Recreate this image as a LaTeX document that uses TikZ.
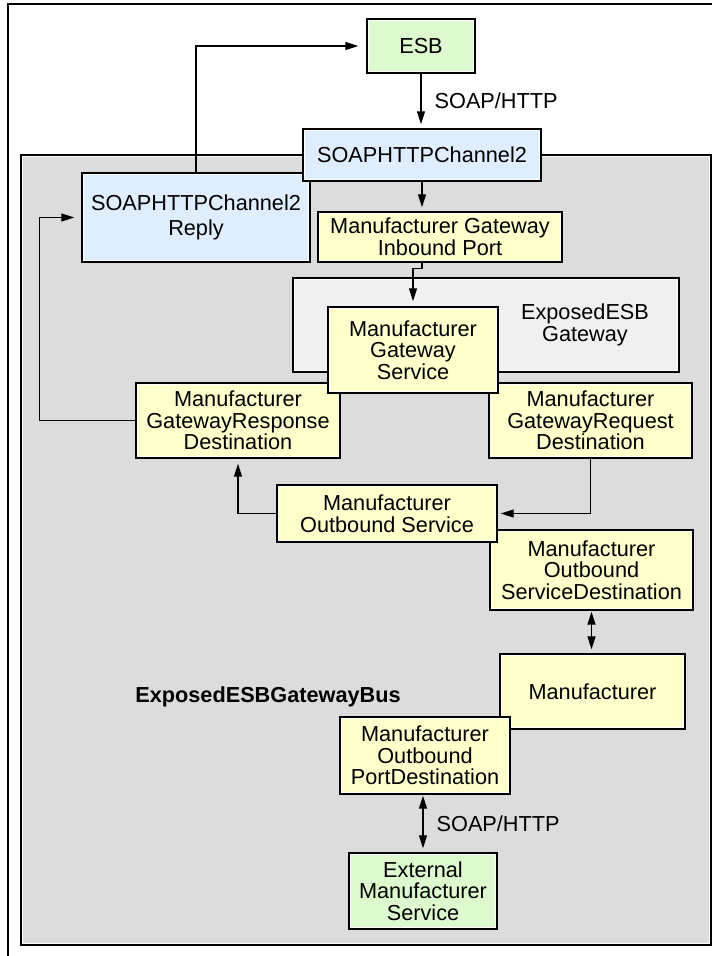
\documentclass[tikz,border=0pt]{standalone}
\usepackage{fontspec}
\setmainfont{Liberation Sans}
\usetikzlibrary{arrows.meta, positioning}
\definecolor{esbgreen}{RGB}{221,250,206}
\definecolor{chanblue}{RGB}{222,238,255}
\definecolor{mfryellow}{RGB}{255,255,204}
\definecolor{busgray}{RGB}{220,220,220}
\definecolor{gwgray}{RGB}{240,240,240}
\newcommand{\boxfont}{\fontsize{21.7}{21.7}\selectfont}
\tikzset{
  box/.style = {rectangle, draw=black, line width=1.4pt, align=center, inner sep=0pt, font=\boxfont,
    path picture={\draw[white, line width=1.2pt] ([shift={(1.5pt,-1.5pt)}]path picture bounding box.north west) rectangle ([shift={(-1.5pt,1.5pt)}]path picture bounding box.south east);}},
  greenbox/.style = {box, fill=esbgreen},
  bluebox/.style = {box, fill=chanblue},
  yellowbox/.style = {box, fill=mfryellow},
  gwbox/.style = {box, fill=gwgray},
  busbox/.style = {box, fill=busgray},
  plain/.style = {align=center, inner sep=0pt, font=\boxfont},
  buslabel/.style = {plain, font=\boxfont\bfseries},
  lbl/.style = {inner sep=0pt, font=\boxfont},
  line/.style = {-{Triangle[length=13pt,width=8pt]}, line width=1.3pt, shorten >=4pt},
  dline/.style = {{Triangle[length=13pt,width=8pt]}-{Triangle[length=13pt,width=8pt]}, line width=1.3pt, shorten <=1pt, shorten >=4pt}
}

\begin{document}
\begin{tikzpicture}[x=1pt, y=-1pt]
\useasboundingbox (0,0) rectangle (712,956);

% Frame and bus
\draw[line width=1.4pt] (8,980) -- (8,4) -- (730,4);
\node[busbox, minimum width=690pt, minimum height=790pt] (bus) at (366,550) {};
\node[buslabel] (buslbl) at (268,697) {ExposedESBGatewayBus};

% ESB and channels
\node[greenbox, minimum width=108pt, minimum height=54pt] (esb) at (421,46) {ESB};
\node[bluebox, minimum width=228pt, minimum height=89pt] (reply) at (196,217.5) {SOAPHTTPChannel2\\[3pt]Reply};
\node[bluebox, minimum width=238pt, minimum height=52pt] (chan) at (422,155) {SOAPHTTPChannel2};
\node[yellowbox, minimum width=244pt, minimum height=50pt] (inport) at (440,237) {Manufacturer Gateway\\Inbound Port};

% Gateway
\node[gwbox, minimum width=386pt, minimum height=94pt] (gw) at (486,325) {};
\node[plain] (gwlbl) at (585,325) {ExposedESB\\Gateway};
\node[yellowbox, minimum width=204pt, minimum height=75pt] (resp) at (238,420.5) {Manufacturer\\GatewayResponse\\Destination};
\node[yellowbox, minimum width=203pt, minimum height=75pt] (req) at (590.5,420.5) {Manufacturer\\GatewayRequest\\Destination};
\node[yellowbox, minimum width=170pt, minimum height=86pt] (gwsvc) at (413,350) {Manufacturer\\Gateway\\Service};

% Outbound side
\node[yellowbox, minimum width=203pt, minimum height=80pt] (outdest) at (591.5,570) {Manufacturer\\Outbound\\ServiceDestination};
\node[yellowbox, minimum width=220pt, minimum height=57pt] (outsvc) at (387,513.5) {Manufacturer\\Outbound Service};
\node[yellowbox, minimum width=185pt, minimum height=75pt] (mfr) at (592.5,691.5) {Manufacturer};
\node[yellowbox, minimum width=170pt, minimum height=77pt] (outport) at (425,755.5) {Manufacturer\\Outbound\\PortDestination};
\node[greenbox, minimum width=148pt, minimum height=76pt] (ext) at (423,891) {External\\Manufacturer\\Service};

% Connections
\draw[line] (esb.south) -- node[lbl, right=13pt] {SOAP/HTTP} (esb.south |- chan.north);
\draw[line] (chan.south) -- (chan.south |- inport.north);
\draw[line, shorten >=0pt] (inport.south -| chan.south) -- ++(0,6) -| ([yshift=5pt]gwsvc.north);
\draw[line, shorten >=8pt] (reply.north) |- (esb.west);
\draw[line, shorten >=7pt] (resp.west) -- ++(-96,0) |- (reply.west);
\draw[line, shorten >=5pt] (outsvc.west) -| (resp.south);
\draw[line, shorten >=3pt] (req.south) |- (outsvc.east);
\draw[dline] (outdest.south) -- (outdest.south |- mfr.north);
\draw[dline] (ext.north |- outport.south) -- node[lbl, right=13pt] {SOAP/HTTP} (ext.north);

\end{tikzpicture}
\end{document}
